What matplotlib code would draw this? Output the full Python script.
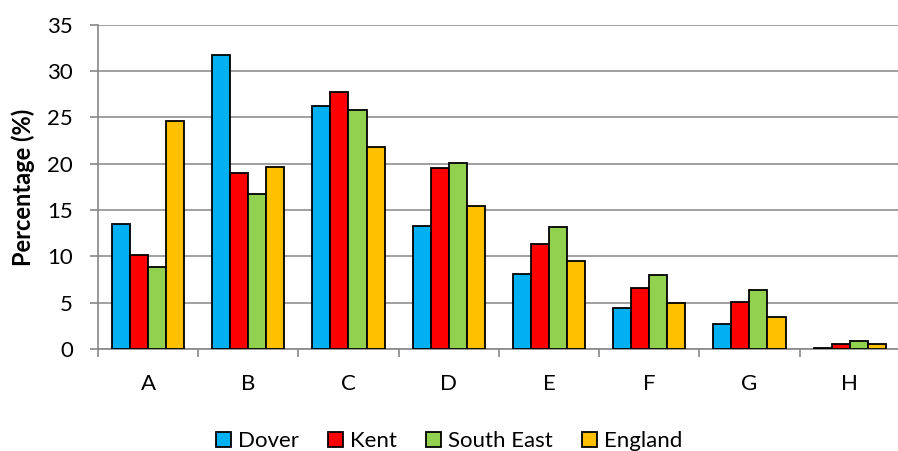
import matplotlib
matplotlib.use("Agg")
import matplotlib.pyplot as plt
import numpy as np

categories = ["A", "B", "C", "D", "E", "F", "G", "H"]
series_names = ["Dover", "Kent", "South East", "England"]
dover = [13.5, 31.7, 26.2, 13.3, 8.1, 4.4, 2.7, 0.1]
kent = [10.2, 19.0, 27.8, 19.5, 11.3, 6.6, 5.1, 0.5]
south_east = [8.9, 16.7, 25.8, 20.1, 13.2, 8.0, 6.4, 0.9]
england = [24.6, 19.7, 21.8, 15.4, 9.5, 5.0, 3.5, 0.6]
colors = ["#00B0F0", "#FF0000", "#92D050", "#FFC000"]

plt.rcParams['font.family'] = ['Lato', 'DejaVu Sans']

fig = plt.figure(figsize=(8.98, 4.51), dpi=100)
ax = fig.add_axes([0.109, 0.226, 0.893, 0.719])

x = np.arange(len(categories))
w = 0.18
data = [dover, kent, south_east, england]
for i, (vals, name, c) in enumerate(zip(data, series_names, colors)):
    ax.bar(x + (i - 1.5) * w, vals, w, color=c, edgecolor="black", linewidth=1.3,
           label=name, zorder=3)

ax.set_xlim(-0.5, len(categories) - 0.5)
ax.set_ylim(0, 35)
ax.set_yticks(np.arange(0, 36, 5))
ax.set_xticks(x)
ax.set_xticklabels(categories)
ax.set_xticks(np.arange(-0.5, len(categories), 1), minor=True)
ax.tick_params(axis="x", which="major", length=0, labelsize=16, pad=18)
ax.tick_params(axis="x", which="minor", length=6, color="#888888", width=1.2)
ax.tick_params(axis="y", length=6, color="#888888", width=1.2, labelsize=16, pad=12)
ax.yaxis.grid(True, color="#999999", linewidth=1.3, zorder=0)
for s in ["top", "right"]:
    ax.spines[s].set_visible(False)
for s in ["left", "bottom"]:
    ax.spines[s].set_color("#888888")
    ax.spines[s].set_linewidth(1.2)
ax.set_ylabel("Percentage (%)", fontsize=17, fontweight="bold")
ax.yaxis.set_label_coords(-0.079, 0.5)

fig.legend(loc="lower center", bbox_to_anchor=(0.5, -0.045), ncol=4, frameon=False,
           fontsize=16, handlelength=0.7, handleheight=0.7, handletextpad=0.3,
           columnspacing=1.3)

fig.savefig("out.png", dpi=100)
